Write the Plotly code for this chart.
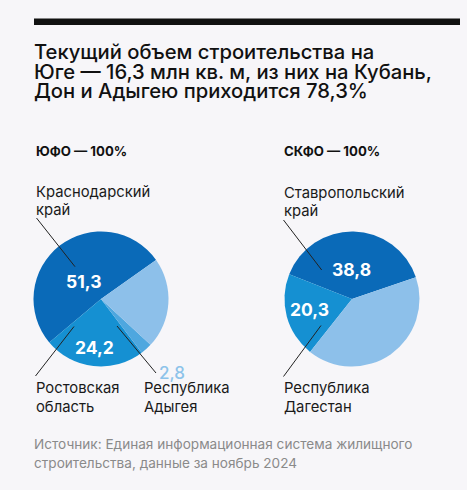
import plotly.graph_objects as go

W, H = 467, 490

title_lines = [
    "Текущий объем строительства на",
    "Юге — 16,3 млн кв. м, из них на Кубань,",
    "Дон и Адыгею приходится 78,3%",
]
source_lines = [
    "Источник: Единая информационная система жилищного",
    "строительства, данные за ноябрь 2024",
]

ufo_title = "ЮФО — 100%"
ufo_labels = ["Краснодарский край", "Ростовская область", "Республика Адыгея", "Другие регионы"]
ufo_values = [51.3, 24.2, 2.8, 21.7]
ufo_colors = ["#0a6ab8", "#1590d2", "#4ea7df", "#8dc0ea"]

skfo_title = "СКФО — 100%"
skfo_labels = ["Ставропольский край", "Республика Дагестан", "Другие регионы"]
skfo_values = [38.8, 20.3, 40.9]
skfo_colors = ["#0a6ab8", "#1590d2", "#8dc0ea"]

FONT = "Inter"
BG = "#f7f6f9"


def px(x):
    return x / W


def py(y):
    return 1 - y / H


def fmt(v):
    return f"{v:.1f}".replace(".", ",")


fig = go.Figure()

R = 67.5
for cx, cy, labels, values, colors, rot in [
    (101, 299, ufo_labels, ufo_values, ufo_colors, -130),
    (352, 299, skfo_labels, skfo_values, skfo_colors, -68.5),
]:
    fig.add_trace(go.Pie(
        labels=labels, values=values, sort=False,
        direction="counterclockwise", rotation=rot,
        marker=dict(colors=colors, line=dict(width=0)),
        textinfo="none", hoverinfo="skip", showlegend=False,
        domain=dict(x=[px(cx - R), px(cx + R)], y=[py(cy + R), py(cy - R)]),
    ))

ann = []


def text(x, y, s, size, color="#1a1a1a", bold=False, xanchor="left", weight=None):
    f = dict(family=FONT, size=size, color=color)
    if weight:
        f["weight"] = weight
    ann.append(dict(
        x=px(x), y=py(y), xref="paper", yref="paper", text=f"<b>{s}</b>" if bold else s,
        showarrow=False, xanchor=xanchor, yanchor="middle", font=f,
    ))


# title
for i, line in enumerate(title_lines):
    text(32, 52 + i * 19.3, line, 20.2, color="#111111", weight=500)

# sub titles
text(34, 151, ufo_title, 13.2, color="#111111", bold=True)
text(282, 151, skfo_title, 13.2, color="#111111", bold=True)


# category labels
def two_line(x, y, label):
    parts = label.split(" ")
    text(x, y, parts[0], 14.8)
    text(x, y + 18.5, parts[1], 14.8)


two_line(34, 192, ufo_labels[0])
two_line(34, 388, ufo_labels[1])
two_line(142, 388, ufo_labels[2])
two_line(282, 193, skfo_labels[0])
two_line(282, 388, skfo_labels[1])

# values in slices
text(83.3, 281, fmt(ufo_values[0]), 17.5, color="white", bold=True, xanchor="center")
text(94.5, 347.5, fmt(ufo_values[1]), 17.5, color="white", bold=True, xanchor="center")
text(171.5, 373, fmt(ufo_values[2]), 17, color="#8dc3ea", xanchor="center", weight=500)
text(351.5, 269, fmt(skfo_values[0]), 17.5, color="white", bold=True, xanchor="center")
text(309.5, 309, fmt(skfo_values[1]), 17.5, color="white", bold=True, xanchor="center")

# source
for i, line in enumerate(source_lines):
    text(32, 444 + i * 19.3, line, 13.6, color="#8a8a8a")

shapes = [dict(type="line", xref="paper", yref="paper", x0=px(34), x1=px(460),
               y0=py(21.7), y1=py(21.7), line=dict(color="#111111", width=6.5))]
for (x0, y0, x1, y1) in [
    (36.5, 218, 75, 266.7),
    (35.5, 376, 74, 326.5),
    (117, 326, 156, 373),
    (283.5, 220, 321.7, 270),
    (283.5, 376.5, 321, 325.5),
]:
    shapes.append(dict(type="line", xref="paper", yref="paper", x0=px(x0), y0=py(y0),
                       x1=px(x1), y1=py(y1), line=dict(color="#222222", width=1)))

fig.update_layout(
    width=W, height=H, margin=dict(l=0, r=0, t=0, b=0),
    paper_bgcolor=BG, plot_bgcolor=BG,
    annotations=ann, shapes=shapes,
    font=dict(family=FONT),
)

fig.write_html(
    "out.html",
    config={"displayModeBar": False},
    post_script="document.body.style.margin='0';document.body.style.background='%s';" % BG,
)
